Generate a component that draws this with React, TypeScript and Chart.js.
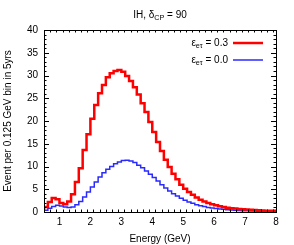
import React, { useEffect, useRef } from 'react';
import { Chart, registerables } from 'chart.js';

Chart.register(...registerables);

// Bin settings (0.125 GeV bins from 0.5 to 8 GeV)
const binStart = 0.5;
const binWidth = 0.125;

// Event counts per bin, epsilon_e_tau = 0.3 (red)
const eps03 = [
  0.5, 1.1, 2.2, 3.1, 2.8, 2.0, 1.7, 2.3, 3.9, 6.6,
  9.6, 13.6, 17.1, 20.5, 23.5, 26.1, 27.9, 29.6, 30.5, 31.0,
  31.2, 30.8, 29.9, 28.8, 27.4, 25.8, 23.9, 22.0, 19.8, 17.6,
  15.4, 13.4, 11.5, 9.9, 8.4, 7.2, 6.0, 5.1, 4.4, 3.8,
  3.2, 2.7, 2.3, 2.0, 1.7, 1.5, 1.25, 1.1, 0.95, 0.8,
  0.75, 0.68, 0.6, 0.55, 0.48, 0.42, 0.38, 0.33, 0.3, 0.27,
];

// Event counts per bin, epsilon_e_tau = 0.0 (blue)
const eps00 = [
  0.2, 0.4, 0.8, 1.2, 1.5, 1.3, 1.1, 1.0, 1.1, 1.6,
  2.3, 3.3, 4.4, 5.5, 6.6, 7.7, 8.6, 9.4, 10.0, 10.6,
  11.0, 11.3, 11.4, 11.2, 10.9, 10.3, 9.7, 9.0, 8.3, 7.6,
  6.8, 6.0, 5.3, 4.6, 4.0, 3.5, 3.0, 2.6, 2.2, 1.9,
  1.6, 1.4, 1.2, 1.0, 0.9, 0.75, 0.65, 0.58, 0.5, 0.44,
  0.38, 0.34, 0.3, 0.27, 0.24, 0.21, 0.19, 0.17, 0.15, 0.13,
];

const xTicks = [1, 2, 3, 4, 5, 6, 7, 8];
const yTicks = [0, 5, 10, 15, 20, 25, 30, 35, 40];
const xRange = [0.5, 8];
const yRange = [0, 40];

const titleParts = { main: 'IH, δ', sub: 'CP', tail: ' = 90' };
const legendItems = [
  { main: 'ε', sub: 'eτ', tail: ' = 0.3', color: '#ff0000', width: 2.5 },
  { main: 'ε', sub: 'eτ', tail: ' = 0.0', color: '#2a2aff', width: 1.5 },
];

const FONT = '"Liberation Sans", Arial, Helvetica, sans-serif';

function toSteps(values: number[]) {
  const pts = values.map((v, i) => ({ x: binStart + i * binWidth, y: v }));
  pts.push({ x: binStart + values.length * binWidth, y: values[values.length - 1] });
  return pts;
}

function drawSubText(ctx: CanvasRenderingContext2D, parts: { main: string; sub: string; tail: string }, x: number, y: number, align: 'left' | 'center' | 'right', size: number) {
  ctx.font = `${size}px ${FONT}`;
  const w1 = ctx.measureText(parts.main).width;
  const w3 = ctx.measureText(parts.tail).width;
  ctx.font = `${size * 0.72}px ${FONT}`;
  const w2 = ctx.measureText(parts.sub).width;
  const total = w1 + w2 + w3;
  let sx = x;
  if (align === 'center') sx = x - total / 2;
  if (align === 'right') sx = x - total;
  ctx.textBaseline = 'middle';
  ctx.textAlign = 'left';
  ctx.font = `${size}px ${FONT}`;
  ctx.fillText(parts.main, sx, y);
  ctx.font = `${size * 0.72}px ${FONT}`;
  ctx.fillText(parts.sub, sx + w1, y + size * 0.3);
  ctx.font = `${size}px ${FONT}`;
  ctx.fillText(parts.tail, sx + w1 + w2, y);
}

const framePlugin = {
  id: 'frameTicks',
  afterDraw(chart: any) {
    const { ctx, chartArea, scales } = chart;
    const { left, right, top, bottom } = chartArea;
    const xs = scales.x;
    const ys = scales.y;
    ctx.save();
    ctx.strokeStyle = '#000';
    ctx.lineWidth = 1;
    ctx.strokeRect(Math.round(left) + 0.5, Math.round(top) + 0.5, Math.round(right - left), Math.round(bottom - top));
    ctx.beginPath();
    // y ticks
    for (let v = yRange[0]; v <= yRange[1] + 1e-9; v += 1) {
      const py = Math.round(ys.getPixelForValue(v)) + 0.5;
      const len = v % 5 === 0 ? 5 : 2.5;
      ctx.moveTo(left, py); ctx.lineTo(left + len, py);
      ctx.moveTo(right, py); ctx.lineTo(right - len, py);
    }
    // x ticks
    for (let k = 5; k <= 80; k += 2) {
      const v = k / 10;
      const px = Math.round(xs.getPixelForValue(v)) + 0.5;
      const len = k % 10 === 0 ? 5 : 2.5;
      ctx.moveTo(px, bottom); ctx.lineTo(px, bottom - len);
      ctx.moveTo(px, top); ctx.lineTo(px, top + len);
    }
    ctx.stroke();

    // title
    ctx.fillStyle = '#000';
    drawSubText(ctx, titleParts, 160, 15, 'center', 10);

    // legend
    legendItems.forEach((it, i) => {
      const ly = 43 + i * 17;
      ctx.fillStyle = '#000';
      drawSubText(ctx, it, 228, ly, 'right', 10);
      ctx.strokeStyle = it.color;
      ctx.lineWidth = it.width;
      ctx.beginPath();
      ctx.moveTo(233, ly);
      ctx.lineTo(263, ly);
      ctx.stroke();
    });
    ctx.restore();
  },
};

export default function App() {
  const ref = useRef<HTMLCanvasElement | null>(null);
  useEffect(() => {
    if (!ref.current) return;
    const chart = new Chart(ref.current, {
      type: 'line',
      data: {
        datasets: [
          {
            label: 'εeτ = 0.3',
            data: toSteps(eps03),
            borderColor: '#ff0000',
            borderWidth: 2.5,
            stepped: 'after',
            pointRadius: 0,
            fill: false,
          },
          {
            label: 'εeτ = 0.0',
            data: toSteps(eps00),
            borderColor: '#2a2aff',
            borderWidth: 1.5,
            stepped: 'after',
            pointRadius: 0,
            fill: false,
          },
        ],
      },
      options: {
        animation: false,
        responsive: false,
        devicePixelRatio: 1,
        layout: { padding: { top: 30, right: 18, left: 0, bottom: 0 } },
        plugins: { legend: { display: false }, title: { display: false }, tooltip: { enabled: false } },
        scales: {
          x: {
            type: 'linear',
            min: xRange[0],
            max: xRange[1],
            grid: { display: false, drawTicks: false },
            border: { display: false },
            afterBuildTicks: (s: any) => { s.ticks = xTicks.map((v) => ({ value: v })); },
            afterFit: (s: any) => { s.height = 33; },
            ticks: { color: '#000', font: { family: FONT, size: 10 }, padding: 4, maxRotation: 0, autoSkip: false },
            title: { display: true, text: 'Energy (GeV)', color: '#000', font: { family: FONT, size: 10 }, padding: { top: 4, bottom: 0 } },
          },
          y: {
            min: yRange[0],
            max: yRange[1],
            grid: { display: false, drawTicks: false },
            border: { display: false },
            afterBuildTicks: (s: any) => { s.ticks = yTicks.map((v) => ({ value: v })); },
            afterFit: (s: any) => { s.width = 44; },
            ticks: { color: '#000', font: { family: FONT, size: 10 }, padding: 6 },
            title: { display: true, text: 'Event per 0.125 GeV bin in 5yrs', color: '#000', font: { family: FONT, size: 10 }, padding: { top: 2, bottom: 0 } },
          },
        },
      },
      plugins: [framePlugin],
    } as any);
    return () => chart.destroy();
  }, []);
  return (
    <div style={{ position: 'absolute', left: 0, top: 0, width: 294, height: 245, background: '#fff' }}>
      <canvas ref={ref} width={294} height={245} style={{ width: 294, height: 245 }} />
    </div>
  );
}
